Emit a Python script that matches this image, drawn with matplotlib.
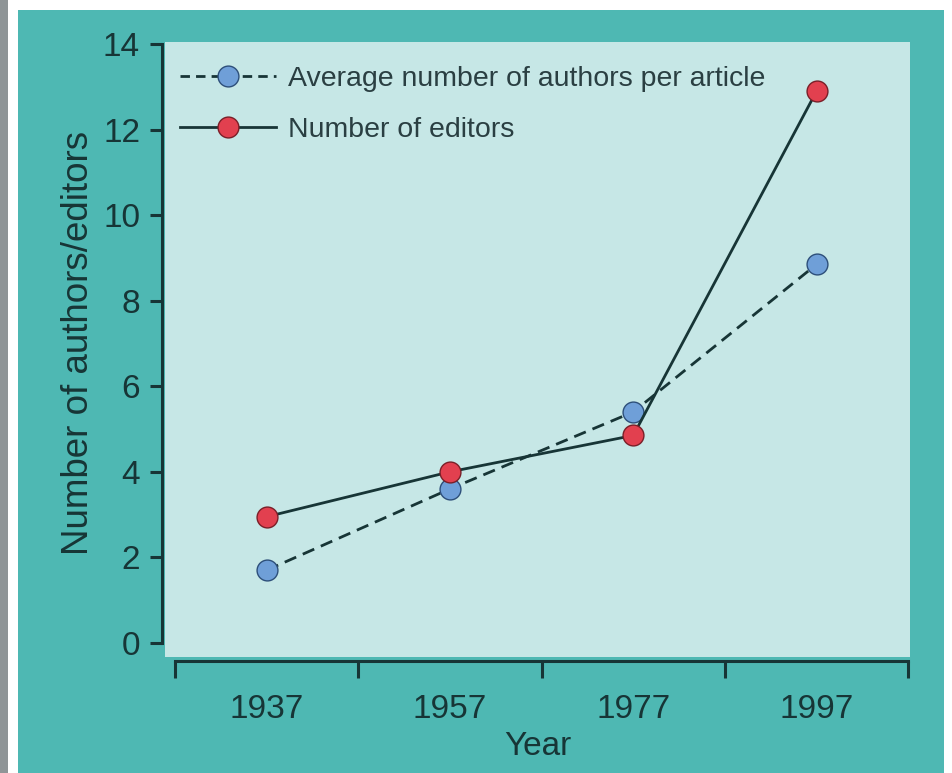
import matplotlib.pyplot as plt
from matplotlib.patches import Rectangle
from matplotlib.lines import Line2D
import numpy as np

# ---- data ----
years = ["1937", "1957", "1977", "1997"]
avg_authors = [1.7, 3.6, 5.4, 8.85]
editors = [2.95, 4.0, 4.85, 12.9]

# ---- colours ----
teal = "#4eb8b3"
panel = "#c6e7e6"
ink = "#173536"
blue = "#6f9fd8"
red = "#e2404f"

plt.rcParams["font.family"] = ["Liberation Sans Narrow", "Liberation Sans", "DejaVu Sans"]

W, H = 952, 773
fig = plt.figure(figsize=(W / 100, H / 100), dpi=100)
fig.patch.set_facecolor("white")

def px(x0, y0, x1, y1):
    # pixel box (top-left origin) -> figure fraction rect
    return [x0 / W, 1 - y1 / H, (x1 - x0) / W, (y1 - y0) / H]

# left grey strip and teal card, kept behind the axes
fig.add_artist(Rectangle((0, 0), 8 / W, 1, transform=fig.transFigure,
                         facecolor="#8f9597", edgecolor="none", zorder=-2))
fig.add_artist(Rectangle((18 / W, 0), (944 - 18) / W, 1 - 10 / H,
                         transform=fig.transFigure, facecolor=teal,
                         edgecolor="none", zorder=-2))

ax = fig.add_axes(px(165, 42, 910, 657))
ax.set_facecolor(panel)
x = np.arange(len(years))

dash = (0, (4.5, 2.6))
ax.plot(x, avg_authors, linestyle=dash, color=ink, lw=2.0,
        marker="o", ms=15, mfc=blue, mec="#2d4f7a", mew=1.0,
        label="Average number of authors per article", zorder=3)
ax.plot(x, editors, linestyle="-", color=ink, lw=2.0,
        marker="o", ms=15, mfc=red, mec="#7a1f28", mew=1.0,
        label="Number of editors", zorder=3)

ax.set_xlim(-0.555, 3.51)
ax.set_ylim(-0.33, 14.05)

for s in ["top", "right"]:
    ax.spines[s].set_visible(False)
ax.spines["left"].set_bounds(0, 14)
ax.spines["left"].set_position(("outward", 2))
ax.spines["bottom"].set_bounds(-0.5, 3.5)
ax.spines["bottom"].set_position(("outward", 3))
for s in ["left", "bottom"]:
    ax.spines[s].set_color(ink)
    ax.spines[s].set_linewidth(2.2)

ax.set_yticks(range(0, 15, 2))
ax.tick_params(axis="y", direction="out", length=9, width=2.2, color=ink,
               labelsize=24, labelcolor=ink, pad=7)

# boundaries get the ticks, category centres get the labels
ax.set_xticks(np.arange(-0.5, 4.0, 1.0))
ax.set_xticklabels([])
ax.set_xticks(x, minor=True)
ax.set_xticklabels(years, minor=True)
ax.tick_params(axis="x", which="major", direction="out", length=12,
               width=2.2, color=ink)
ax.tick_params(axis="x", which="minor", length=0, labelsize=24,
               labelcolor=ink, pad=24)

ax.set_ylabel("Number of authors/editors", fontsize=26.5, color=ink)
ax.yaxis.set_label_coords(-0.092, 0.51)
ax.set_xlabel("Year", fontsize=24, color=ink, labelpad=4)

handles = [
    Line2D([], [], linestyle=(0, (3.4, 2.2)), color=ink, lw=2.0, marker="o",
           ms=15, mfc=blue, mec="#2d4f7a", mew=1.0),
    Line2D([], [], linestyle="-", color=ink, lw=2.0, marker="o",
           ms=15, mfc=red, mec="#7a1f28", mew=1.0),
]
leg = ax.legend(handles, ["Average number of authors per article",
                          "Number of editors"],
                loc="upper left", bbox_to_anchor=(-0.013, 1.0), frameon=False,
                fontsize=20.5, handlelength=3.4, handletextpad=0.4,
                labelspacing=0.86, borderaxespad=0.45, labelcolor="#2a3f42")

fig.savefig("out.png", dpi=100, facecolor=fig.get_facecolor())
